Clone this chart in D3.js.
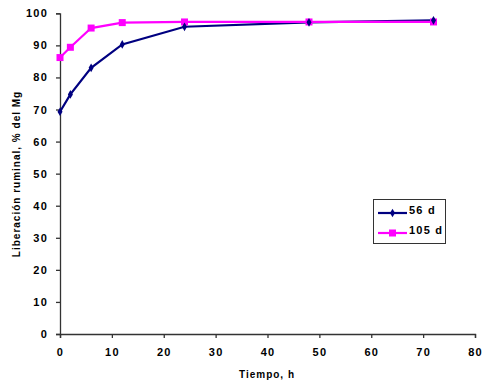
<!DOCTYPE html>
<html><head><meta charset="utf-8">
<script src="https://cdn.jsdelivr.net/npm/d3@7"></script>
<style>body{margin:0;background:#fff}svg{display:block}text{font-family:"Liberation Sans",Arial,sans-serif;font-weight:bold;fill:#000}</style>
</head><body><svg id="c" width="487" height="385"></svg>
<script>
const times = [0, 2, 6, 12, 24, 48, 72];
const series56 = [69.3, 74.7, 83.0, 90.3, 95.8, 97.2, 97.8];
const series105 = [86.2, 89.4, 95.4, 97.1, 97.3, 97.3, 97.3];
const seriesNames = ["56 d", "105 d"];
const xTicks = [0, 10, 20, 30, 40, 50, 60, 70, 80];
const yTicks = [0, 10, 20, 30, 40, 50, 60, 70, 80, 90, 100];

const svg = d3.select("#c");
const x = d3.scaleLinear().domain([0, 80]).range([60, 475]);
const y = d3.scaleLinear().domain([0, 100]).range([334, 13.3]);

const xAxis = svg.append("g").attr("transform", "translate(0,334)")
  .call(d3.axisBottom(x).tickValues(xTicks).tickSize(4).tickPadding(10));
const yAxis = svg.append("g").attr("transform", "translate(60,0)")
  .call(d3.axisLeft(y).tickValues(yTicks).tickSize(4).tickPadding(8));
[xAxis, yAxis].forEach(a => {
  a.selectAll("path,line").attr("stroke", "#333").attr("stroke-width", 1.3);
  a.selectAll("text").attr("font-size", 11).attr("letter-spacing", 1.2).attr("font-family", "Liberation Sans, Arial, sans-serif").attr("font-weight", "bold");
});

svg.append("text").attr("x", 267).attr("y", 378).attr("text-anchor", "middle")
  .attr("font-size", 10).attr("letter-spacing", 1).text("Tiempo, h");
svg.append("text").attr("transform", "translate(20,174) rotate(-90)").attr("text-anchor", "middle")
  .attr("font-size", 10).attr("letter-spacing", 1).text("Liberación ruminal, % del Mg");

const line = d3.line().x((d, i) => x(times[i])).y(d => y(d));
const colors = ["#000080", "#FF00FF"];
[series56, series105].forEach((s, k) => {
  svg.append("path").datum(s).attr("d", line).attr("fill", "none")
    .attr("stroke", colors[k]).attr("stroke-width", 2.2);
});
// markers
svg.selectAll(".m105").data(series105).enter().append("rect")
  .attr("x", (d, i) => x(times[i]) - 3.5).attr("y", d => y(d) - 3.5)
  .attr("width", 7).attr("height", 7).attr("fill", colors[1]);
svg.selectAll(".m56").data(series56).enter().append("path")
  .attr("d", d3.symbol(d3.symbolDiamond, 22))
  .attr("transform", (d, i) => `translate(${x(times[i])},${y(d)})`).attr("fill", colors[0]);

// legend
const lg = svg.append("g");
lg.append("rect").attr("x", 373.5).attr("y", 199.5).attr("width", 72).attr("height", 44)
  .attr("fill", "#fff").attr("stroke", "#333").attr("stroke-width", 1);
seriesNames.forEach((n, k) => {
  const yy = 213 + k * 20;
  lg.append("line").attr("x1", 378).attr("x2", 407).attr("y1", yy).attr("y2", yy)
    .attr("stroke", colors[k]).attr("stroke-width", 2.2);
  if (k === 0) lg.append("path").attr("d", d3.symbol(d3.symbolDiamond, 22)).attr("transform", `translate(392.5,${yy})`).attr("fill", colors[0]);
  else lg.append("rect").attr("x", 389).attr("y", yy - 3.5).attr("width", 7).attr("height", 7).attr("fill", colors[1]);
  lg.append("text").attr("x", 409).attr("y", yy + 1).attr("font-size", 11).attr("letter-spacing", 1.2).text(n);
});
</script></body></html>
